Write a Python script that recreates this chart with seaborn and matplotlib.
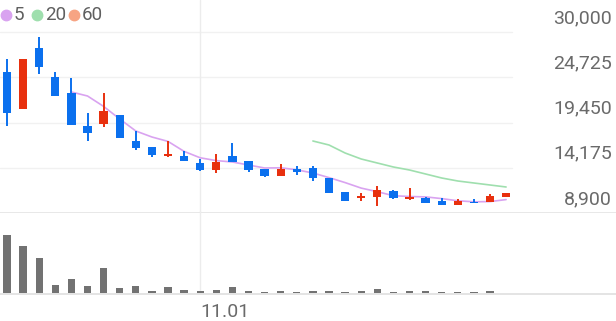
import matplotlib
matplotlib.use("Agg")
import matplotlib.pyplot as plt
import matplotlib.transforms as mtransforms
from matplotlib.lines import Line2D
import seaborn as sns
import numpy as np

# ---------------- data ----------------
opens = [25340, 21020, 28140, 24750, 22890, 19040, 19280, 20330, 17290, 16590,
         15550, 15550, 14730, 13910, 15550, 14960, 14030, 13210, 14030, 14150,
         12980, 11350, 10710, 10770, 11470, 10530, 10650, 10300, 9830, 10180,
         10180, 10770]
highs = [26850, 26850, 29420, 25340, 24640, 20560, 22890, 20330, 18460, 16590,
         17290, 16130, 15200, 15780, 17060, 14960, 14030, 14610, 14380, 14380,
         12980, 11350, 11230, 12050, 11580, 11820, 10770, 10650, 10530, 10530,
         11120, 11230]
lows = [19040, 21020, 25100, 22540, 19160, 17290, 18930, 17640, 16250, 15430,
        15430, 14960, 13800, 13560, 14850, 13680, 13100, 13210, 13330, 12630,
        11230, 10300, 10300, 9720, 10530, 10420, 10070, 9830, 9830, 10070,
        10180, 10770]
closes = [20560, 26850, 25920, 22540, 19160, 18230, 20790, 17640, 16480, 15660,
          15780, 14960, 13910, 14850, 14850, 13910, 13210, 14030, 13680, 12980,
          11230, 10300, 10820, 11580, 10650, 10770, 10070, 9830, 10300, 10070,
          10880, 11230]
volumes = [5760, 4660, 3500, 760, 1400, 730, 2500, 530, 660, 250,
           560, 270, 170, 300, 560, 200, 150, 180, 140, 200,
           200, 130, 220, 380, 130, 200, 160, 140, 140, 130,
           160, 0]
ma5 = [23006, 22540, 21327, 19858, 18460, 17760, 17247, 16082, 15335, 15009,
       14846, 14496, 14146, 14170, 13937, 13564, 13027, 12445, 11803, 11384,
       10917, 10824, 10778, 10579, 10323, 10206, 10230, 10463]
ma20 = [17294, 16828, 15895, 15196, 14729, 14263, 13913, 13447, 12981, 12631,
        12398, 12165, 11932]
price_ticks = [30000, 24725, 19450, 14175, 8900]
date_tick_pos = [12]
date_tick_labels = ["11.01"]
legend_labels = ["5", "20", "60"]

# ---------------- style ----------------
sns.set_theme(style="white")
plt.rcParams["font.family"] = ["Roboto", "DejaVu Sans"]

UP = "#e8300e"
DOWN = "#0b70ee"
MA_COLORS = ["#d9a3f0", "#9fdfae", "#f7a483"]
GRID = "#f1f1f1"
AXLINE = "#e4e4e4"
TXT = "#6a6a6a"

W, H = 616, 321
fig = plt.figure(figsize=(W / 100, H / 100), dpi=100)
ax = fig.add_axes([0, 1 - 213 / H, 1, 213 / H])
axv = fig.add_axes([0, 28 / H, 1, 80 / H])

n = len(opens)
idx = np.arange(n)
step = 16.1
xlim = (-7 / step, (W - 7) / step)

# price scale: 30000 at y=32px, 8900 at y=213px
ppx = (30000 - 8900) / (213 - 32)
ax.set_ylim(8900, 30000 + 32 * ppx)
ax.set_xlim(*xlim)

# grid
for v in price_ticks:
    if v == price_ticks[-1]:
        ax.axhline(v, 0, 1, color=AXLINE, lw=1.2, clip_on=False, zorder=0)
    else:
        ax.axhline(v, 0, 512 / W, color=GRID, lw=1.0, zorder=0)
for p in date_tick_pos:
    ax.axvline(p, color="#ececec", lw=1.0, zorder=0)
    axv.axvline(p, color="#ececec", lw=1.0, zorder=0, ymax=1.03, clip_on=False)

# candles
min_body = 1.6 * ppx
for i in range(n):
    o, h, l, c = opens[i], highs[i], lows[i], closes[i]
    col = UP if c >= o else DOWN
    ax.vlines(i, l, h, color=col, lw=1.4, zorder=3)
    body = abs(c - o)
    bottom = min(o, c)
    if body < min_body:
        bottom = (o + c) / 2 - min_body / 2
        body = min_body
    ax.bar(i, body, bottom=bottom, width=0.52, color=col, lw=0, zorder=4)

# moving averages
sns.lineplot(x=idx[4:], y=ma5, ax=ax, color=MA_COLORS[0], lw=1.2, zorder=2,
             legend=False)
sns.lineplot(x=idx[19:], y=ma20, ax=ax, color=MA_COLORS[1], lw=1.2, zorder=2,
             legend=False)

# price labels (right, above gridlines)
off = mtransforms.ScaledTranslation(0, 14 / 100, fig.dpi_scale_trans)
trans = mtransforms.blended_transform_factory(ax.transAxes, ax.transData) + off
for v in price_ticks:
    ax.text(612 / W, v, f"{v:,}", transform=trans, ha="right", va="center",
            fontsize=14, color=TXT)

for s in ax.spines.values():
    s.set_visible(False)
ax.set_xticks([])
ax.set_yticks([])
ax.set_xlabel("")
ax.set_ylabel("")

# volume
axv.axhline(-60, 0, 1, color=AXLINE, lw=1.4, clip_on=False, zorder=0)
sns.barplot(x=idx, y=volumes, ax=axv, color="#727272", width=0.45,
            saturation=1, linewidth=0, zorder=3)
axv.set_xlim(*xlim)
axv.set_ylim(0, 8000)
for s in axv.spines.values():
    s.set_visible(False)
axv.set_yticks([])
axv.set_xticks(date_tick_pos)
axv.set_xticklabels(date_tick_labels, fontsize=14, color=TXT, ha="left")
axv.tick_params(axis="x", length=0, pad=7)
axv.set_xlabel("")
axv.set_ylabel("")

# legend
lx_circ = [6, 37, 74]
lx_text = [14, 45, 82]
ly = 1 - 15 / H
for xc, xt, lab, col in zip(lx_circ, lx_text, legend_labels, MA_COLORS):
    fig.add_artist(Line2D([xc / W], [ly], marker="o", markersize=7.5,
                          color=col, lw=0, transform=fig.transFigure))
    fig.text(xt / W, ly, lab, ha="left", va="center", fontsize=13.5,
             color="#5f5f5f")

fig.savefig("out.png", dpi=100)
